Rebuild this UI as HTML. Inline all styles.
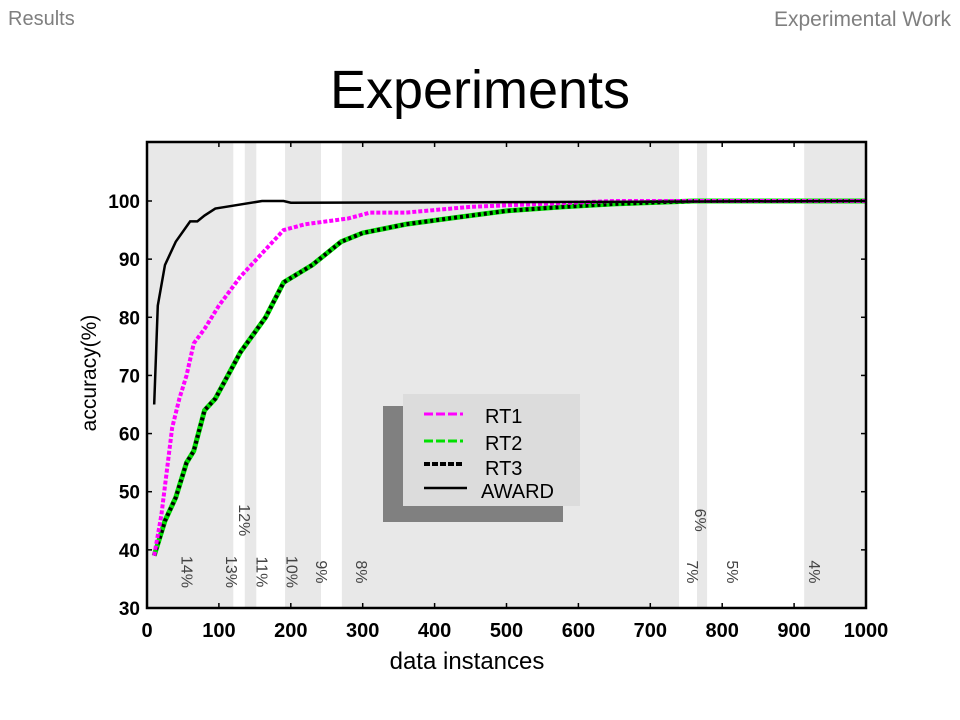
<!DOCTYPE html>
<html><head><meta charset="utf-8"><style>
body{margin:0;width:960px;height:720px;background:#fff;overflow:hidden;font-family:"Liberation Sans",sans-serif;position:relative}
.hdr{position:absolute;top:8px;font-size:20px;color:#7f7f7f}
</style></head><body>
<div class="hdr" style="left:8px">Results</div>
<div class="hdr" style="right:9px;font-size:21px">Experimental Work</div>
<div style="position:absolute;top:59px;width:960px;text-align:center;font-size:54px;color:#000">Experiments</div>
<svg id="chart" width="960" height="720" style="position:absolute;left:0;top:0"></svg>
<script>
const xTicks=[0,100,200,300,400,500,600,700,800,900,1000];
const yTicks=[30,40,50,60,70,80,90,100];
const bandStarts=[0,136,192,271,765,914];
const bandEnds=[120,152,242,740,779,1000];
const pctLabels=["14%","13%","12%","11%","10%","9%","8%","7%","6%","5%","4%"];
const pctX=[48,110,128,152,194,235,291,751,762,807,921];
const pctY=[36.2,36.2,45.1,36.2,36.2,36.2,36.2,36.2,45.1,36.2,36.2];
const awardX=[10,15,25,40,60,70,80,95,110,160,190,200,1000];
const awardY=[65,82,89,93,96.5,96.5,97.5,98.7,99,100,100,99.7,100];
const rt1X=[10,20,35,45,55,65,80,100,130,160,190,220,280,310,360,450,550,650,1000];
const rt1Y=[39,46,61,66,70,75.5,78,82,87,91,95,96,97,98,98,99,99.5,100,100];
const rt3X=[10,25,40,55,65,80,95,130,165,190,230,270,300,360,420,500,580,650,760,1000];
const rt3Y=[39,45,49,55,57,64,66,74,80,86,89,93,94.5,96,97,98.3,99,99.5,100,100];
const X0=147,X1=866,Y30=608,Y100=201,TOP=142;
const sx=v=>X0+(X1-X0)*v/1000;
const sy=v=>Y30-(Y30-Y100)*(v-30)/70;
const svg=document.getElementById('chart');
const NS='http://www.w3.org/2000/svg';
function mk(tag,attrs){const e=document.createElementNS(NS,tag);for(const k in attrs)e.setAttribute(k,attrs[k]);svg.appendChild(e);return e;}
for(let i=0;i<bandStarts.length;i++){
 const r=mk('rect',{x:sx(bandStarts[i]),y:TOP,width:sx(bandEnds[i])-sx(bandStarts[i]),height:Y30-TOP,fill:'#e8e8e8'});
 
 
}
for(let i=0;i<pctLabels.length;i++){
 const x=sx(pctX[i]),y=sy(pctY[i]);
 const t=mk('text',{x:x,y:y,transform:`rotate(90 ${x} ${y})`,'font-size':16,fill:'#444','font-family':'Liberation Sans,sans-serif','text-anchor':'middle'});
 t.textContent=pctLabels[i];
 
 
}
function line(xs,ys,attrs,name){
 const d=xs.map((v,i)=>(i?'L':'M')+sx(v)+' '+sy(ys[i])).join(' ');
 const p=mk('path',Object.assign({d:d,fill:'none'},attrs));
 
 
}
line(rt3X,rt3Y,{stroke:'#00e000','stroke-width':5},'rt2-line');
line(rt3X,rt3Y,{stroke:'#000','stroke-width':4,'stroke-dasharray':'3 3'},'rt3-line');
line(rt1X,rt1Y,{stroke:'#ff00ff','stroke-width':4,'stroke-dasharray':'4 2'},'rt1-line');
line(awardX,awardY,{stroke:'#000','stroke-width':2.5},'award-line');
const fr=mk('rect',{x:X0,y:TOP,width:X1-X0,height:Y30-TOP,fill:'none',stroke:'#000','stroke-width':2.5});


xTicks.forEach(v=>{
 mk('line',{x1:sx(v),x2:sx(v),y1:Y30,y2:Y30-5,stroke:'#000','stroke-width':1.5});
 mk('line',{x1:sx(v),x2:sx(v),y1:TOP,y2:TOP+5,stroke:'#000','stroke-width':1.5});
 const t=mk('text',{x:sx(v),y:637,'font-size':20,'font-weight':'bold','text-anchor':'middle','font-family':'Liberation Sans,sans-serif'});
 t.textContent=v;
 
 
});
yTicks.forEach(v=>{
 mk('line',{x1:X0,x2:X0+5,y1:sy(v),y2:sy(v),stroke:'#000','stroke-width':1.5});
 mk('line',{x1:X1,x2:X1-5,y1:sy(v),y2:sy(v),stroke:'#000','stroke-width':1.5});
 const t=mk('text',{x:140,y:sy(v)+7,'font-size':19,'font-weight':'bold','text-anchor':'end','font-family':'Liberation Sans,sans-serif'});
 t.textContent=v;
 
 
});
</script>
<svg width="960" height="720" style="position:absolute;left:0;top:0">
<text x="467" y="669" font-size="24" text-anchor="middle" font-family="Liberation Sans,sans-serif">data instances</text>
<text x="96" y="373" font-size="21" text-anchor="middle" transform="rotate(-90 96 373)" font-family="Liberation Sans,sans-serif">accuracy(%)</text>
<g>
<rect x="383" y="406" width="180" height="116" fill="#808080"/>
<rect x="403" y="394" width="177" height="112" fill="#dcdcdc"/>
<line x1="424" y1="414" x2="463" y2="414" stroke="#ff00ff" stroke-width="3" stroke-dasharray="9 3"/>
<text x="485" y="423" font-size="20" font-family="Liberation Sans,sans-serif">RT1</text>
<line x1="424" y1="441" x2="463" y2="441" stroke="#00e000" stroke-width="3" stroke-dasharray="9 3"/>
<text x="485" y="450" font-size="20" font-family="Liberation Sans,sans-serif">RT2</text>
<line x1="424" y1="464" x2="463" y2="464" stroke="#000" stroke-width="4" stroke-dasharray="6 2"/>
<text x="485" y="475" font-size="20" font-family="Liberation Sans,sans-serif">RT3</text>
<line x1="424" y1="488" x2="467" y2="488" stroke="#000" stroke-width="2.5"/>
<text x="481" y="498" font-size="20" font-family="Liberation Sans,sans-serif">AWARD</text>
</g>
</svg>
</body></html>
